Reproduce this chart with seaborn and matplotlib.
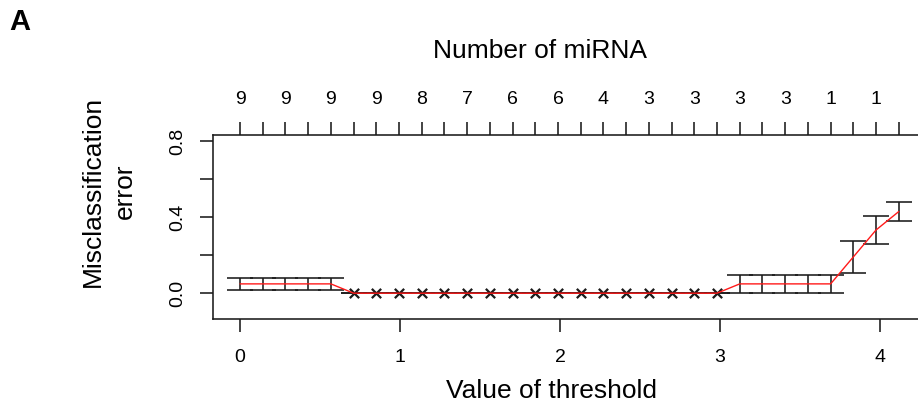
import numpy as np
import pandas as pd
import matplotlib
matplotlib.use("Agg")
import matplotlib.pyplot as plt
import seaborn as sns

# ---- data ----
thresholds = [0.000, 0.142, 0.284, 0.426, 0.568, 0.710, 0.852, 0.994, 1.136, 1.278,
              1.420, 1.562, 1.704, 1.846, 1.988, 2.130, 2.272, 2.414, 2.556, 2.698,
              2.840, 2.982, 3.124, 3.266, 3.408, 3.550, 3.692, 3.834, 3.976, 4.118]
error = [0.049, 0.049, 0.049, 0.049, 0.049,
         0, 0, 0, 0, 0, 0, 0, 0, 0, 0, 0, 0, 0, 0, 0, 0, 0,
         0.049, 0.049, 0.049, 0.049, 0.049,
         0.191, 0.333, 0.430]
se = [0.033, 0.033, 0.033, 0.033, 0.033,
      0, 0, 0, 0, 0, 0, 0, 0, 0, 0, 0, 0, 0, 0, 0, 0, 0,
      0.049, 0.049, 0.049, 0.049, 0.049,
      0.083, 0.073, 0.050]
n_mirna_labels = ["9", "9", "9", "9", "8", "7", "6", "6", "4", "3", "3", "3", "3", "1", "1"]
x_ticks = [0, 1, 2, 3, 4]
y_ticks = [0.0, 0.2, 0.4, 0.6, 0.8]
y_ticklabels = ["0.0", "", "0.4", "", "0.8"]

df = pd.DataFrame({"threshold": thresholds, "error": error, "se": se})

sns.set_style("white")
plt.rcParams["font.family"] = ["Liberation Sans", "DejaVu Sans"]
plt.rcParams["text.color"] = "black"

W, H = 918, 409
fig = plt.figure(figsize=(W / 100, H / 100), dpi=100)
left, right, top, bottom = 213.3, 925.0, 134.5, 319.0
ax = fig.add_axes([left / W, 1 - bottom / H, (right - left) / W, (bottom - top) / H])

ink = "#1a1a1a"
lw = 1.15
# error bars
ax.errorbar(df["threshold"], df["error"], yerr=df["se"], fmt="none",
            ecolor=ink, elinewidth=lw, capsize=9.6, capthick=lw, zorder=2)
# zero-error points as x marks
zero = df[df["error"] == 0]
sns.scatterplot(data=zero, x="threshold", y="error", marker="x", s=45,
                color=ink, linewidth=1.6, ax=ax, zorder=3, legend=False)
# red line
sns.lineplot(data=df, x="threshold", y="error", color="#ff1a1a", linewidth=1.0,
             ax=ax, zorder=4, legend=False, estimator=None, sort=False)

ax.set_xlim(-0.167, 4.282)
ax.set_ylim(-0.136, 0.836)
ax.set_xlabel("")
ax.set_ylabel("")
ax.set_xticks(x_ticks)
ax.set_xticklabels([str(v) for v in x_ticks])
ax.set_yticks(y_ticks)
ax.set_yticklabels(y_ticklabels)
ax.tick_params(axis="x", direction="out", length=9.4, width=lw, color=ink,
               labelsize=14, pad=12, bottom=True, labelcolor="black")
ax.tick_params(axis="y", direction="out", length=9.4, width=lw, color=ink,
               labelsize=14, pad=10, left=True, labelrotation=90, labelcolor="black")
for lab in ax.get_yticklabels():
    lab.set_va("center")
for s in ax.spines.values():
    s.set_color(ink)
    s.set_linewidth(lw)

# top axis: number of miRNA
ax2 = ax.twiny()
ax2.set_xlim(ax.get_xlim())
ax2.set_xticks(thresholds)
top_labels = []
for i in range(len(thresholds)):
    top_labels.append(n_mirna_labels[i // 2] if i % 2 == 0 else "")
ax2.set_xticklabels(top_labels)
ax2.tick_params(axis="x", direction="out", length=9.4, width=lw, color=ink,
                labelsize=14, pad=10, top=True, labelcolor="black")
for s in ax2.spines.values():
    s.set_visible(False)

# texts
fig.text(9 / W, 1 - 29.5 / H, "A", fontsize=21, fontweight="bold",
         ha="left", va="baseline", color="black")
fig.text(540 / W, 1 - 58.3 / H, "Number of miRNA", fontsize=19,
         ha="center", va="baseline", color="black")
fig.text(552 / W, 1 - 398 / H, "Value of threshold", fontsize=19,
         ha="center", va="baseline", color="black")
fig.text(100 / W, 1 - 191 / H, "Misclassification", fontsize=19, rotation=90,
         rotation_mode="anchor", ha="center", va="baseline", color="black")
fig.text(132 / W, 1 - 191 / H, "error", fontsize=19, rotation=90,
         rotation_mode="anchor", ha="center", va="baseline", color="black")

fig.savefig("out.png", dpi=100)
